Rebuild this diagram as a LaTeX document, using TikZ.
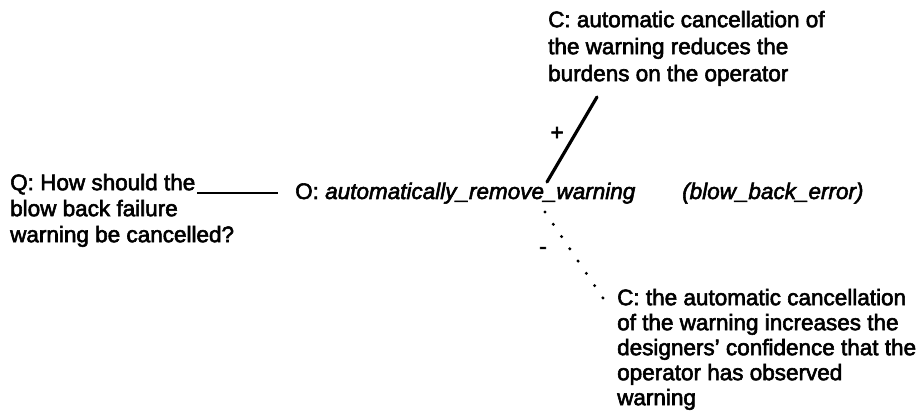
\documentclass[tikz,border=0pt]{standalone}
\usepackage{fontspec}
\setmainfont{Liberation Sans}
\newfontfamily\scanfont{Liberation Sans}[Ligatures=TeX, FakeBold=2.5]
\newcommand\firststrut{\rule{0pt}{18pt}}
\begin{document}
\begin{tikzpicture}[x=1pt,y=-1pt,
  txt/.style={inner sep=0pt, font=\fontsize{22.5}{#1}\scanfont, align=left, anchor=north west},
  one/.style={inner sep=0pt, font=\fontsize{22.5}{26}\scanfont, anchor=base west},
  pro/.style={line width=3.2pt, line cap=round},
  con/.style={line width=3.4pt, line cap=round, dash pattern=on 0pt off 14.8pt},
  link/.style={line width=2.6pt}]
\fill[white] (0,0) rectangle (919,417);
\useasboundingbox (0,0) rectangle (919,417);

\node[txt=26] (q) at (10,172) {\firststrut Q: How should the\\blow back failure\\warning be cancelled?};
\node[one] (o) at (295,199) {O: \textit{automatically\_remove\_warning}};
\node[one] (err) at (682,199) {\textit{(blow\_back\_error)}};
\node[txt=27] (c1) at (548,9) {\firststrut C: automatic cancellation of\\the warning reduces the\\burdens on the operator};
\node[txt=25] (c2) at (617,287) {\firststrut C: the automatic cancellation\\of the warning increases the\\designers' confidence that the\\operator has observed\\warning};
\node[one, anchor=base] (plus) at (557,140) {+};
\node[one, anchor=base] (minus) at (543,254) {-};

\coordinate (qa) at (197,193);
\draw[link, shorten >=17pt] (qa) -- (qa -| o.west);
\coordinate (pa) at (547,182);
\coordinate (pb) at (597,97);
\draw[pro] (pa) -- (pb);
\coordinate (da) at (545,212);
\coordinate (db) at (603,298);
\draw[con] (da) -- (db);
\end{tikzpicture}
\end{document}
